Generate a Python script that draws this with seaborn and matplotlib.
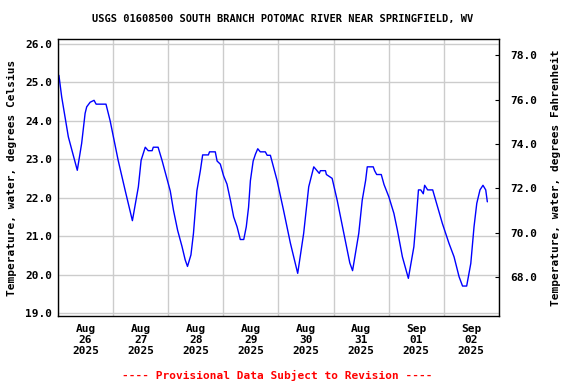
import pandas as pd
import matplotlib.pyplot as plt
import matplotlib.dates as mdates
import seaborn as sns

# hours since 2025-08-26 00:00 and water temperature (deg C)
hours = [0.4, 1.6, 4.5, 8.4, 10.3, 11.8, 12.5, 14.0, 15.7, 16.6, 20.9, 22.7,
         26.2, 29.2, 32.4, 35.0, 36.2, 38.0, 39.3, 41.0, 41.5, 43.6, 45.3,
         48.9, 50.3, 52.1, 54.0, 55.4, 56.4, 57.9, 59.0, 59.8, 60.5, 62.0, 63.0,
         65.5, 66.0, 68.5, 69.3, 70.7, 72.1, 73.6, 75.1, 76.5, 78.0, 79.4, 80.9,
         82.0, 83.0, 83.8, 85.0, 86.0, 87.0, 88.1, 90.3, 91.1, 92.5, 95.4, 98.2,
         101.2, 104.4, 107.0, 109.2, 111.4, 113.8, 114.3, 116.5, 116.9, 119.4,
         121.6, 124.5, 127.1, 128.3, 131.0, 132.5, 134.0, 134.7, 137.3, 137.9,
         138.8, 140.8, 142.0, 144.1, 146.3, 147.8, 150.0, 152.6, 155.0, 156.1,
         157.0, 158.0, 159.1, 159.7, 161.0, 163.2, 164.5, 167.4, 170.3, 172.5,
         174.7, 176.2, 178.0, 179.8, 181.2, 182.4, 183.8, 185.1, 186.3, 187.0]
temps = [25.18, 24.62, 23.58, 22.71, 23.41, 24.19, 24.36, 24.48, 24.53, 24.43, 24.43, 24.0,
         22.97, 22.2, 21.4, 22.28, 22.97, 23.31, 23.22, 23.22, 23.31, 23.31, 22.97,
         22.17, 21.67, 21.15, 20.73, 20.38, 20.21, 20.51, 21.07, 21.67, 22.18, 22.7, 23.11,
         23.11, 23.19, 23.19, 22.95, 22.87, 22.57, 22.35, 21.93, 21.5, 21.24, 20.91, 20.91,
         21.24, 21.75, 22.44, 22.95, 23.13, 23.27, 23.19, 23.19, 23.1, 23.1, 22.45, 21.68,
         20.82, 20.03, 21.07, 22.28, 22.8, 22.63, 22.7, 22.7, 22.6, 22.5,
         21.93, 21.07, 20.3, 20.1, 21.07, 21.93, 22.45, 22.8, 22.8, 22.7,
         22.6, 22.6, 22.34, 22.02, 21.59, 21.16, 20.46, 19.9, 20.72, 21.5,
         22.2, 22.2, 22.1, 22.32, 22.2, 22.2, 21.93, 21.33, 20.81, 20.46,
         19.94, 19.7, 19.7, 20.29, 21.24, 21.85, 22.2, 22.32, 22.2, 21.89]

left_ticks = [19.0, 20.0, 21.0, 22.0, 23.0, 24.0, 25.0, 26.0]
right_ticks = [68.0, 70.0, 72.0, 74.0, 76.0, 78.0]

df = pd.DataFrame({
    "time": pd.Timestamp("2025-08-26") + pd.to_timedelta(hours, unit="h"),
    "temp": temps,
})

sns.set_style("white")
plt.rcParams["font.family"] = ["DejaVu Sans Mono"]
plt.rcParams["font.weight"] = "bold"
plt.rcParams["text.color"] = "black"
plt.rcParams["axes.labelcolor"] = "black"
plt.rcParams["xtick.color"] = "black"
plt.rcParams["ytick.color"] = "black"

fig = plt.figure(figsize=(5.76, 3.84), dpi=100)
ax = fig.add_axes([0.1007, 0.177, 0.7653, 0.721])

sns.lineplot(data=df, x="time", y="temp", ax=ax, color="#0000ff", linewidth=1.0)

ax.set_xlim(pd.Timestamp("2025-08-26"), pd.Timestamp("2025-09-03"))
ax.set_ylim(18.92, 26.12)
ax.set_yticks(left_ticks)
ax.set_yticklabels([f"{v:.1f}" for v in left_ticks], fontsize=8, fontweight="bold")

ax.xaxis.set_major_locator(mdates.DayLocator())
ax.xaxis.set_major_formatter(plt.NullFormatter())
ax.xaxis.set_minor_locator(mdates.HourLocator(byhour=12))
ax.xaxis.set_minor_formatter(mdates.DateFormatter("%b\n%d\n%Y"))
ax.tick_params(axis="x", which="both", length=0, pad=6)
ax.tick_params(axis="y", length=0, pad=4)
for lab in ax.get_xticklabels(minor=True):
    lab.set_fontsize(8)
    lab.set_fontweight("bold")
    lab.set_linespacing(1.1)

ax.grid(True, which="major", color="#cccccc", linewidth=1.0)
ax.set_axisbelow(True)
for sp in ax.spines.values():
    sp.set_visible(True)
    sp.set_color("black")
    sp.set_linewidth(1.0)

ax.set_xlabel("")
ax.set_ylabel("Temperature, water, degrees Celsius", fontsize=8, fontweight="bold", labelpad=6)

ax2 = ax.twinx()
ax2.set_ylim(66.24, 78.72)
ax2.set_yticks(right_ticks)
ax2.set_yticklabels([f"{v:.1f}" for v in right_ticks], fontsize=8, fontweight="bold")
ax2.tick_params(axis="y", direction="in", length=3, width=0.8, pad=8, color="black")
ax2.set_ylabel("Temperature, water, degrees Fahrenheit", fontsize=8, fontweight="bold", labelpad=10)
for sp in ax2.spines.values():
    sp.set_visible(False)

fig.text(0.49, 0.95, "USGS 01608500 SOUTH BRANCH POTOMAC RIVER NEAR SPRINGFIELD, WV",
         ha="center", va="center", fontsize=7.5, fontweight="bold")
fig.text(0.481, 0.023, "---- Provisional Data Subject to Revision ----",
         ha="center", va="center", fontsize=8, fontweight="bold", color="#ff0000")

fig.savefig("out.png", dpi=100)
